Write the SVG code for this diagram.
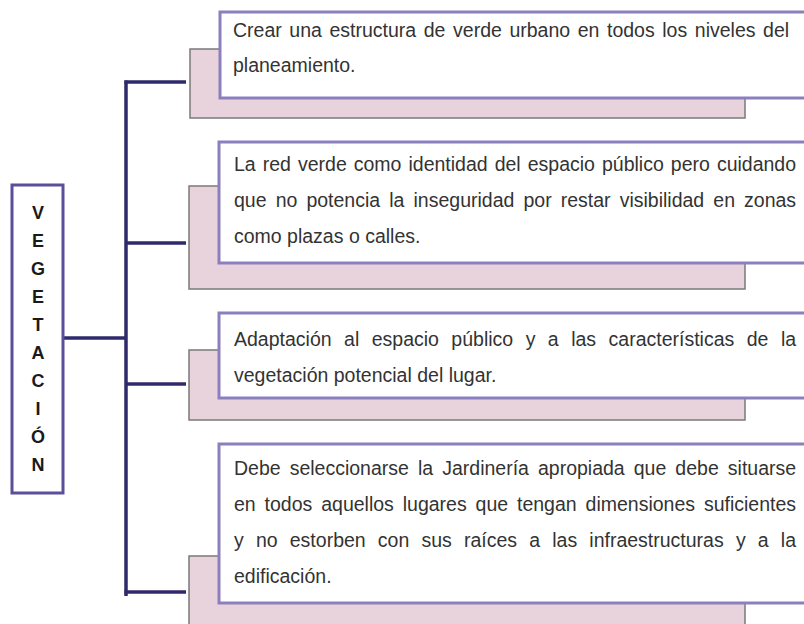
<svg xmlns="http://www.w3.org/2000/svg" width="804" height="624" viewBox="0 0 804 624">
<style>
.sh{fill:#e8d2dc;stroke:#7a7a7a;stroke-width:1.5}
.bx{fill:#ffffff;stroke:#8b7fc0;stroke-width:3}
.t{font-family:"Liberation Sans",Arial,sans-serif;font-size:19.5px;fill:#333333}
.v{font-family:"Liberation Sans",Arial,sans-serif;font-size:18px;font-weight:bold;fill:#1a1a1a;text-anchor:middle}
.c{stroke:#2f2a6b;stroke-width:3.5;fill:none}
</style>
<rect width="804" height="624" fill="#ffffff"/>
<g id="connectors">
<line class="c" x1="63" y1="338" x2="126" y2="338"/>
<line class="c" x1="126" y1="80.5" x2="126" y2="596"/>
<line class="c" x1="124.5" y1="82" x2="186" y2="82"/>
<line class="c" x1="126" y1="243" x2="186" y2="243"/>
<line class="c" x1="126" y1="384" x2="186" y2="384"/>
<line class="c" x1="124.5" y1="592" x2="186" y2="592"/>
</g>
<g id="vegetacion">
<rect x="12" y="185" width="51" height="308" fill="#ffffff" stroke="#5b4f9b" stroke-width="3"/>
<text class="v" x="38" y="219">V</text>
<text class="v" x="38" y="247">E</text>
<text class="v" x="38" y="275">G</text>
<text class="v" x="38" y="303">E</text>
<text class="v" x="38" y="331">T</text>
<text class="v" x="38" y="359">A</text>
<text class="v" x="38" y="387">C</text>
<text class="v" x="38" y="415">I</text>
<text class="v" x="38" y="443">Ó</text>
<text class="v" x="38" y="471">N</text>
</g>
<g id="box1">
<rect class="sh" x="190" y="49" width="555" height="69"/>
<rect class="bx" x="220" y="12" width="600" height="86"/>
<text class="t" x="233" y="37" word-spacing="2.17">Crear una estructura de verde urbano en todos los niveles del</text>
<text class="t" x="233" y="72">planeamiento.</text>
</g>
<g id="box2">
<rect class="sh" x="189" y="186" width="556" height="103"/>
<rect class="bx" x="219" y="142" width="601" height="121"/>
<text class="t" x="234" y="171" word-spacing="1.62">La red verde como identidad del espacio público pero cuidando</text>
<text class="t" x="234" y="207" word-spacing="3.68">que no potencia la inseguridad por restar visibilidad en zonas</text>
<text class="t" x="234" y="243">como plazas o calles.</text>
</g>
<g id="box3">
<rect class="sh" x="189" y="350" width="556" height="70"/>
<rect class="bx" x="219" y="313" width="601" height="85"/>
<text class="t" x="234" y="346" word-spacing="7.05">Adaptación al espacio público y a las características de la</text>
<text class="t" x="234" y="382">vegetación potencial del lugar.</text>
</g>
<g id="box4">
<rect class="sh" x="189" y="556" width="556" height="80"/>
<rect class="bx" x="219" y="444" width="601" height="159"/>
<text class="t" x="234" y="475" word-spacing="3.64">Debe seleccionarse la Jardinería apropiada que debe situarse</text>
<text class="t" x="234" y="511" word-spacing="3.48">en todos aquellos lugares que tengan dimensiones suficientes</text>
<text class="t" x="234" y="547" word-spacing="6.75">y no estorben con sus raíces a las infraestructuras y a la</text>
<text class="t" x="234" y="583">edificación.</text>
</g>
</svg>
